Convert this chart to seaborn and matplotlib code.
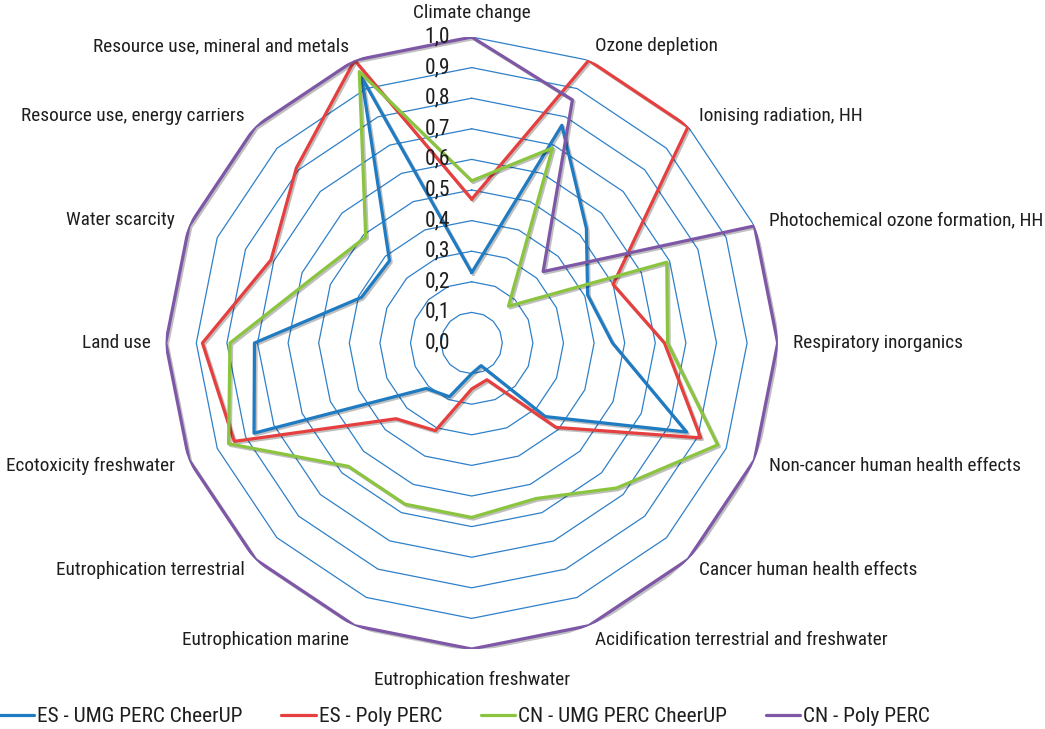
import matplotlib
matplotlib.use('Agg')
import matplotlib.pyplot as plt
import matplotlib.patheffects as pe
from matplotlib import font_manager
from matplotlib.textpath import TextPath
import numpy as np
import pandas as pd
import seaborn as sns

categories = [
    'Climate change', 'Ozone depletion', 'Ionising radiation, HH',
    'Photochemical ozone formation, HH', 'Respiratory inorganics',
    'Non-cancer human health effects', 'Cancer human health effects',
    'Acidification terrestrial and freshwater', 'Eutrophication freshwater',
    'Eutrophication marine', 'Eutrophication terrestrial',
    'Ecotoxicity freshwater', 'Land use', 'Water scarcity',
    'Resource use, energy carriers', 'Resource use, mineral and metals',
]
series_names = ['ES - UMG PERC CheerUP', 'ES - Poly PERC',
                'CN - UMG PERC CheerUP', 'CN - Poly PERC']
es_umg = [0.23, 0.77, 0.53, 0.41, 0.46, 0.76, 0.34, 0.08,
          0.10, 0.19, 0.21, 0.77, 0.71, 0.39, 0.38, 0.94]
es_poly = [0.47, 1.00, 1.00, 0.50, 0.63, 0.81, 0.39, 0.13,
           0.15, 0.31, 0.35, 0.84, 0.88, 0.71, 0.81, 1.00]
cn_umg = [0.53, 0.69, 0.17, 0.69, 0.64, 0.87, 0.67, 0.55,
          0.57, 0.57, 0.57, 0.86, 0.79, 0.56, 0.49, 0.96]
cn_poly = [1.00, 0.86, 0.33, 1.00, 1.00, 1.00, 1.00, 1.00,
           1.00, 1.00, 1.00, 1.00, 1.00, 1.00, 1.00, 1.00]
ring_levels = [0.1, 0.2, 0.3, 0.4, 0.5, 0.6, 0.7, 0.8, 0.9, 1.0]
tick_levels = [0.0, 0.1, 0.2, 0.3, 0.4, 0.5, 0.6, 0.7, 0.8, 0.9, 1.0]

colors = ['#1f7bc2', '#e5403f', '#8bc53f', '#7e58a6']
grid_color = '#2f80c8'
text_color = '#1e1e1e'

sns.set_style('white')
plt.rcParams['font.family'] = ['Liberation Sans', 'DejaVu Sans']

# look for a condensed sans face, the original uses a narrow font
fp = font_manager.FontProperties(family='Liberation Sans')
prefs = ['LiberationSansNarrow-Regular', 'NotoSans-Condensed.',
         'NotoSans-CondensedRegular', 'RobotoCondensed-Regular',
         'DejaVuSansCondensed.']
paths = [f.fname for f in font_manager.fontManager.ttflist]
paths += font_manager.findSystemFonts()
for key in prefs:
    hits = [p for p in paths if key in p.split('/')[-1]]
    if hits:
        fp = font_manager.FontProperties(fname=hits[0])
        break

# sizes so that texts get about the widths seen in the original
def fit_size(s, px, cap):
    w = TextPath((0, 0), s, size=15, prop=fp).get_extents().width
    return min(cap, 15 * px / (w * 100 / 72))

fp_leg = fp.copy()
fp_leg.set_size(fit_size('ES - UMG PERC CheerUP', 204, 15.5))
fp_cat = fp.copy()
fp_cat.set_size(fit_size('Photochemical ozone formation, HH', 272, 14.5))
fp_tick = fp.copy()
fp_tick.set_size(fit_size('0,9', 23, 15.5))

# long table, first point repeated to close each polygon
n = len(categories)
theta = np.arange(n + 1) * 2 * np.pi / n
rows = []
for name, vals in zip(series_names, [es_umg, es_poly, cn_umg, cn_poly]):
    for t, v in zip(theta, list(vals) + [vals[0]]):
        rows.append({'theta': t, 'value': v, 'series': name})
df = pd.DataFrame(rows)

fig = plt.figure(figsize=(10.45, 7.29), dpi=100)
ax = fig.add_axes([165.7 / 1045, 80 / 729, 612 / 1045, 612 / 729],
                  projection='polar')
ax.set_theta_zero_location('N')
ax.set_theta_direction(-1)
ax.grid(False)
ax.spines['polar'].set_visible(False)

# polygon gridlines
for lv in ring_levels:
    ax.plot(theta, [lv] * (n + 1), color=grid_color, lw=0.9, zorder=1)

sns.lineplot(data=df, x='theta', y='value', hue='series',
             hue_order=series_names, palette=colors, sort=False,
             estimator=None, lw=2.3, ax=ax, zorder=3,
             path_effects=[pe.SimpleLineShadow(offset=(1.2, -1.2), alpha=0.25),
                           pe.Normal()])

ax.set_ylim(0, 1)
ax.set_xticks([])
ax.set_yticks([])
ax.set_xlabel('')
ax.set_ylabel('')

# radial value labels along the top spoke
for lv in tick_levels:
    ax.annotate(f'{lv:.1f}'.replace('.', ','), xy=(0, lv),
                xytext=(-15.6, 0), textcoords='offset points',
                ha='right', va='center', fontproperties=fp_tick,
                color=text_color, zorder=4)

# category labels
for i, lab in enumerate(categories):
    ang = theta[i]
    if i == 0:
        ax.text(ang, 1.08, lab, ha='center', va='center',
                fontproperties=fp_cat, color=text_color)
    elif i == n // 2:
        ax.text(ang, 1.1, lab, ha='center', va='center',
                fontproperties=fp_cat, color=text_color)
    else:
        ha = 'left' if i < n // 2 else 'right'
        ax.text(ang, 1.05, lab, ha=ha, va='center', fontproperties=fp_cat,
                color=text_color)

handles, labels = ax.get_legend_handles_labels()
if ax.get_legend() is not None:
    ax.get_legend().remove()
for h in handles:
    h.set_linewidth(2.3)
    h.set_path_effects([])
fig.legend(handles, labels, loc='center left', bbox_to_anchor=(0, 12 / 729),
           ncol=4, frameon=False, prop=fp_leg, handlelength=1.6,
           handletextpad=0.15, columnspacing=1.8, borderpad=0,
           borderaxespad=0, labelcolor=text_color)

fig.savefig('out.png', dpi=100)
